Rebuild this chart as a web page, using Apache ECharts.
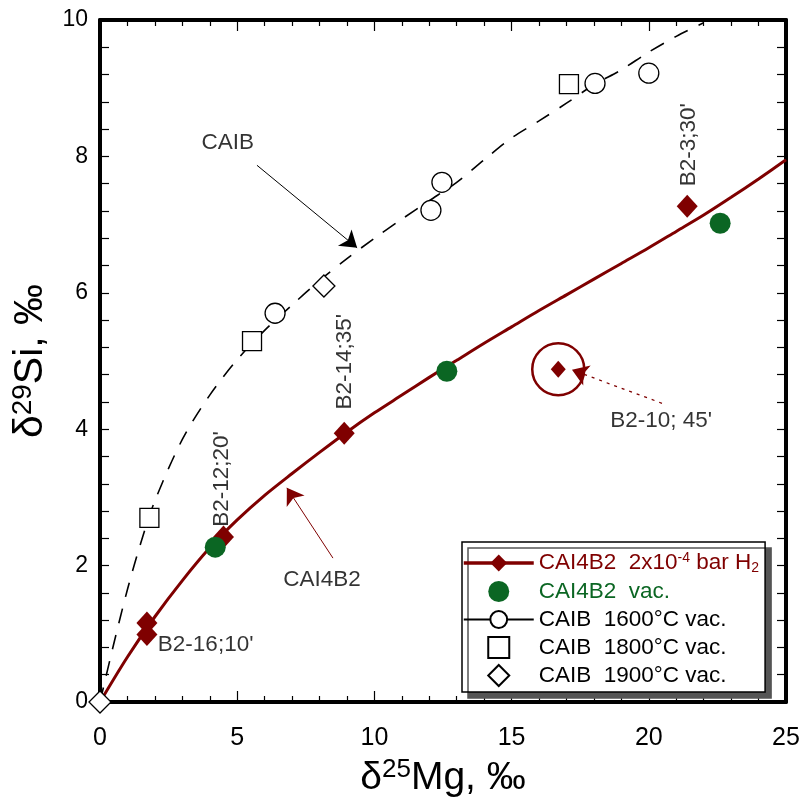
<!DOCTYPE html>
<html>
<head>
<meta charset="utf-8">
<script src="https://cdn.jsdelivr.net/npm/echarts@6/dist/echarts.min.js"></script>
<style>
  html, body { margin: 0; padding: 0; background: #fff; }
  #chart { width: 803px; height: 811px; }
</style>
</head>
<body>
<div id="chart"></div>
<script>
// fitted curves
const h2CurveX = [0, 1, 2, 3, 4, 5, 6, 7, 8, 9, 10, 11, 12, 13, 14, 15, 16, 17, 18, 19, 20, 21, 22, 23, 24, 25]
const h2CurveY = [0, 0.66, 1.25, 1.78, 2.26, 2.67, 3.03, 3.35, 3.66, 3.96, 4.24, 4.5, 4.76, 5.01, 5.26, 5.5, 5.74, 5.97, 6.2, 6.43, 6.66, 6.9, 7.14, 7.4, 7.67, 7.95]
const caibCurveX = [0, 0.5, 1, 1.5, 2, 3, 4, 5, 6, 7, 8, 9, 10, 11, 12, 13, 14, 15, 16, 17, 18, 19, 20, 21, 22]
const caibCurveY = [0, 0.85, 1.65, 2.35, 2.95, 3.85, 4.5, 5.02, 5.45, 5.82, 6.18, 6.5, 6.8, 7.08, 7.35, 7.62, 7.95, 8.27, 8.52, 8.78, 9.05, 9.27, 9.53, 9.76, 9.96]

// measured points
const h2Points = [[1.71, 1.16], [1.71, 0.99], [4.5, 2.42], [8.9, 3.94], [21.4, 7.27]]
const h2Outlier = [[16.7, 4.88]]
const vacPoints = [[4.2, 2.27], [12.64, 4.85], [22.6, 7.02]]
const caib1600 = [[6.38, 5.7], [12.06, 7.21], [12.46, 7.62], [18.04, 9.07], [20.0, 9.22]]
const caib1800 = [[1.8, 2.7], [5.54, 5.29], [17.09, 9.06]]
const caib1900 = [[0, 0], [8.16, 6.1]]

// annotations: [x, y, text, rotate]
const notes = [
    [3.85, 0.84, "B2-16;10'", 0],
    [4.45, 3.27, "B2-12;20'", 90],
    [8.93, 4.99, "B2-14;35'", 90],
    [21.47, 8.17, "B2-3;30'", 90],
    [20.45, 4.13, "B2-10; 45'", 0],
    [4.66, 8.2, 'CAIB', 0],
    [8.09, 1.79, 'CAI4B2', 0]
]
// arrows: [from, to]
const arrows = [
    [[5.72, 7.87], [9.37, 6.66]],
    [[8.49, 2.11], [6.81, 3.14]],
    [[20.48, 4.38], [17.2, 4.87]]
]

const xTicks = [0, 5, 10, 15, 20, 25]
const yTicks = [0, 2, 4, 6, 8, 10]

const RED = '#7f0000'
const GREEN = '#0b6623'
const FONT = '"Liberation Sans", Arial, sans-serif'

const SQUARE = 'path://M0,0H10V10H0Z'
const DIAMOND = 'path://M5,0L10,5L5,10L0,5Z'

const zip = (xs, ys) => xs.map((x, i) => [x, ys[i]])

const chart = echarts.init(document.getElementById('chart'))

const legendText = {
    'CAI4B2 H2': '{r|CAI4B2  2x10}{rsup|-4}{r| bar H}{rsub|2}',
    'CAI4B2 vac.': '{g|CAI4B2  vac.}',
    'CAIB 1600': '{k|CAIB  1600°C vac.}',
    'CAIB 1800': '{k|CAIB  1800°C vac.}',
    'CAIB 1900': '{k|CAIB  1900°C vac.}'
}

const tickStyle = { color: '#000', width: 1.2 }
const frameAxis = {
    type: 'value',
    axisLine: { show: true, onZero: false, lineStyle: { color: '#000', width: 4 } },
    splitLine: { show: false }
}

const option = {
    animation: false,
    grid: { left: 100, right: 17, top: 20, bottom: 109 },
    xAxis: [
        Object.assign({}, frameAxis, {
            min: 0, max: 25, interval: 5,
            axisTick: { inside: true, length: 11, lineStyle: tickStyle },
            minorTick: { show: true, splitNumber: 5, length: 6, lineStyle: tickStyle },
            axisLabel: {
                margin: 24, fontSize: 25, color: '#000', fontFamily: FONT,
                formatter: v => xTicks.includes(v) ? String(v) : ''
            },
            name: '{t|δ}{s|25}{t|Mg, ‰}',
            nameLocation: 'middle', nameGap: 55,
            nameTextStyle: {
                rich: {
                    t: { fontSize: 39, fontFamily: FONT, color: '#000' },
                    s: { fontSize: 26, fontFamily: FONT, color: '#000', padding: [0, 0, 16, 0] }
                }
            }
        }),
        Object.assign({}, frameAxis, {
            min: 0, max: 25, interval: 5, position: 'top',
            axisTick: { inside: true, length: 11, lineStyle: tickStyle },
            minorTick: { show: true, splitNumber: 5, length: 6, lineStyle: tickStyle },
            axisLabel: { show: false }
        })
    ],
    yAxis: [
        Object.assign({}, frameAxis, {
            min: 0, max: 10, interval: 2,
            axisTick: { inside: true, length: 9, lineStyle: tickStyle },
            minorTick: { show: true, splitNumber: 5, length: 9, lineStyle: tickStyle },
            axisLabel: {
                margin: 12, fontSize: 23, color: '#000', fontFamily: FONT,
                formatter: v => yTicks.includes(v) ? String(v) : ''
            },
            name: '{t|δ}{s|29}{t|Si, ‰}',
            nameLocation: 'middle', nameGap: 46, nameRotate: 90,
            nameTextStyle: {
                rich: {
                    t: { fontSize: 41, fontFamily: FONT, color: '#000' },
                    s: { fontSize: 28, fontFamily: FONT, color: '#000', padding: [0, 0, 16, 0] }
                }
            }
        }),
        Object.assign({}, frameAxis, {
            min: 0, max: 10, interval: 2, position: 'right',
            axisTick: { inside: true, length: 9, lineStyle: tickStyle },
            minorTick: { show: true, splitNumber: 5, length: 9, lineStyle: tickStyle },
            axisLabel: { show: false }
        })
    ],
    legend: {
        orient: 'vertical',
        left: 462, top: 542,
        padding: [9, 6, 5, 0],
        itemWidth: 70, itemHeight: 21, itemGap: 5,
        backgroundColor: '#fff',
        borderColor: '#000', borderWidth: 1.5, borderRadius: 0,
        shadowColor: '#555', shadowBlur: 0, shadowOffsetX: 6, shadowOffsetY: 6,
        selectedMode: false,
        formatter: name => legendText[name],
        textStyle: {
            fontFamily: FONT,
            rich: {
                r: { fontSize: 22.5, color: RED, fontFamily: FONT },
                rsup: { fontSize: 14, color: RED, fontFamily: FONT, padding: [0, 0, 10, 0] },
                rsub: { fontSize: 14, color: RED, fontFamily: FONT, padding: [10, 0, 0, 0] },
                g: { fontSize: 22.5, color: GREEN, fontFamily: FONT },
                k: { fontSize: 22.5, color: '#000', fontFamily: FONT }
            }
        },
        data: [
            { name: 'CAI4B2 H2', lineStyle: { width: 3.5, color: RED } },
            { name: 'CAI4B2 vac.' },
            { name: 'CAIB 1600', lineStyle: { type: 'solid', width: 1.8, color: '#000' } },
            { name: 'CAIB 1800', icon: SQUARE },
            { name: 'CAIB 1900', icon: DIAMOND }
        ]
    },
    series: [
        {
            name: 'CAIB 1600', type: 'line', smooth: 0.3,
            data: zip(caibCurveX, caibCurveY),
            showSymbol: false, symbol: 'circle',
            itemStyle: { color: '#fff', borderColor: '#000', borderWidth: 1.3 },
            lineStyle: { color: '#000', width: 1.6, type: [15, 12] },
            z: 2
        },
        {
            name: 'CAI4B2 H2', type: 'line', smooth: 0.3,
            data: zip(h2CurveX, h2CurveY),
            showSymbol: false, symbol: 'diamond',
            itemStyle: { color: RED },
            lineStyle: { color: RED, width: 3 },
            z: 3
        },
        {
            name: 'outlierRing', type: 'scatter',
            data: h2Outlier, symbol: 'circle', symbolSize: 52,
            itemStyle: { color: 'transparent', borderColor: RED, borderWidth: 2.5, opacity: 1 },
            z: 4
        },
        {
            name: 'h2pts', type: 'scatter', data: h2Points,
            symbol: 'diamond', symbolSize: [21, 23],
            itemStyle: { color: RED, opacity: 1 }, z: 5
        },
        {
            name: 'h2outlier', type: 'scatter', data: h2Outlier,
            symbol: 'diamond', symbolSize: [15, 17],
            itemStyle: { color: RED, opacity: 1 }, z: 5
        },
        {
            name: 'CAI4B2 vac.', type: 'scatter', data: vacPoints,
            symbol: 'circle', symbolSize: 21,
            itemStyle: { color: GREEN, opacity: 1 }, z: 6
        },
        {
            name: 'c1600', type: 'scatter', data: caib1600,
            symbol: 'circle', symbolSize: 20,
            itemStyle: { color: '#fff', borderColor: '#000', borderWidth: 1.3, opacity: 1 }, z: 5
        },
        {
            name: 'CAIB 1800', type: 'scatter', data: caib1800,
            symbol: 'rect', symbolSize: 19,
            itemStyle: { color: '#fff', borderColor: '#000', borderWidth: 1.3, opacity: 1 }, z: 5
        },
        {
            name: 'CAIB 1900', type: 'scatter', data: caib1900, clip: false,
            symbol: 'diamond', symbolSize: 22,
            itemStyle: { color: '#fff', borderColor: '#000', borderWidth: 1.3, opacity: 1 }, z: 7
        },
        {
            name: 'notes', type: 'scatter', silent: true,
            symbol: 'circle', symbolSize: 1,
            itemStyle: { color: 'transparent' },
            data: notes.map(n => ({
                value: [n[0], n[1]],
                label: {
                    show: true, position: 'inside', formatter: n[2], rotate: n[3],
                    fontSize: 22.5, fontFamily: FONT, color: '#000'
                }
            })),
            markLine: {
                silent: true, symbol: ['none', 'arrow'], symbolSize: 16,
                label: { show: false },
                data: arrows.map((a, i) => [
                    {
                        coord: a[0],
                        lineStyle: i === 0 ? { color: '#000', width: 1, type: 'solid' }
                            : i === 1 ? { color: RED, width: 1, type: 'solid' }
                                : { color: RED, width: 1.3, type: [3, 5] }
                    },
                    { coord: a[1] }
                ])
            },
            z: 8
        }
    ]
}

chart.setOption(option)
</script>
</body>
</html>
